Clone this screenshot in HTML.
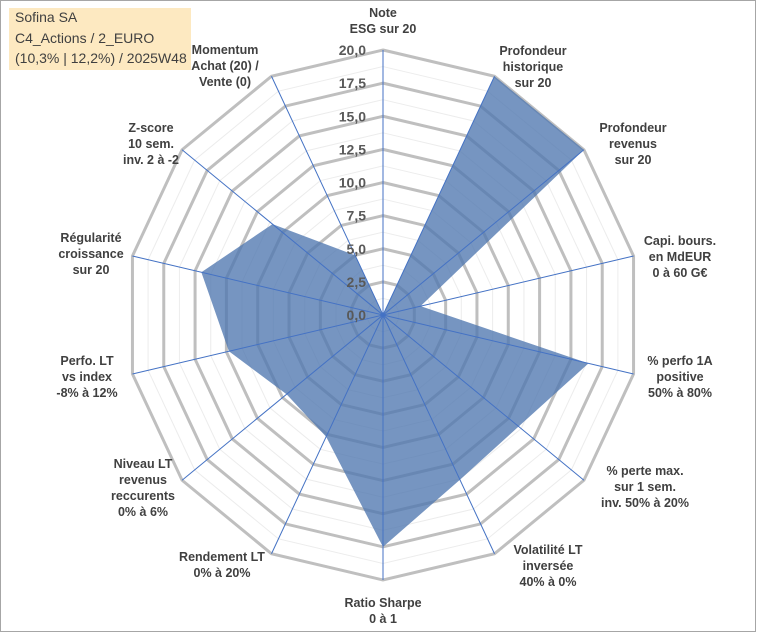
<!DOCTYPE html>
<html><head><meta charset="utf-8">
<style>
html,body{margin:0;padding:0;background:#fff;}
svg{display:block;}
text{font-family:"Liberation Sans",Arial,sans-serif;}
.lbl{font-size:12.5px;font-weight:bold;fill:#404040;}
.tick{font-size:14px;font-weight:bold;fill:#595959;}
</style></head>
<body>
<svg id="chart" width="760" height="633" viewBox="0 0 760 633">
<rect x="0.5" y="0.5" width="755" height="631" fill="#fff" stroke="#a6a6a6"/>
<g id="grid"></g>
<g id="series"></g>
<g id="axes"></g>
<g id="ticks"></g>
<g id="labels"></g>
<g>
<rect x="9" y="8" width="182" height="62" fill="#fde9c1"/>
<text x="15" y="22" font-size="14" fill="#404040">Sofina SA</text>
<text x="15" y="43" font-size="14" fill="#404040">C4_Actions / 2_EURO</text>
<text x="15" y="63" font-size="14" fill="#404040">(10,3% | 12,2%) / 2025W48</text>
</g>
</svg>
<script>
const categories = [
 ["Note","ESG sur 20"],
 ["Profondeur","historique","sur 20"],
 ["Profondeur","revenus","sur 20"],
 ["Capi. bours.","en MdEUR","0 à 60 G€"],
 ["% perfo 1A","positive","50% à 80%"],
 ["% perte max.","sur 1 sem.","inv. 50% à 20%"],
 ["Volatilité LT","inversée","40% à 0%"],
 ["Ratio Sharpe","0 à 1"],
 ["Rendement LT","0% à 20%"],
 ["Niveau LT","revenus","reccurents","0% à 6%"],
 ["Perfo. LT","vs index","-8% à 12%"],
 ["Régularité","croissance","sur 20"],
 ["Z-score","10 sem.","inv. 2 à -2"],
 ["Momentum","Achat (20) /","Vente (0)"]
];
const values = [0, 20, 20, 3, 16.4, 13.5, 13.8, 17.5, 10.2, 9.6, 12.3, 14.5, 11, 5];
const tickLabels = ["0,0","2,5","5,0","7,5","10,0","12,5","15,0","17,5","20,0"];
const maxVal = 20;
const labelPos = [[383,12],[533,50],[633,127],[680,240],[680,360],[645,470],[548,549],[383,602],[222,556],[143,463],[87,360],[91,237],[151,127],[225,49]];

const cx=383, cy=315, rx=257, ry=265;
const N=categories.length;
const NS="http://www.w3.org/2000/svg";
function pt(i,v){const a=i*2*Math.PI/N;const r=v/maxVal;return [cx+rx*r*Math.sin(a), cy-ry*r*Math.cos(a)];}
function mk(tag,attrs,parent){const e=document.createElementNS(NS,tag);for(const k in attrs)e.setAttribute(k,attrs[k]);parent.appendChild(e);return e;}
const grid=document.getElementById('grid');
for(let k=1;k<=16;k++){
 const v=k*maxVal/16;
 const pts=[];for(let i=0;i<N;i++)pts.push(pt(i,v).join(','));
 const major=k%2===0;
 const p=mk('polygon',{points:pts.join(' '),fill:'none',stroke:major?'#bfbfbf':'#ececec','stroke-width':major?3:1},grid);
 
 
}
const ser=document.getElementById('series');
const sp=values.map((v,i)=>pt(i,v).join(',')).join(' ');
const poly=mk('polygon',{points:sp,fill:'rgba(79,119,176,0.78)',stroke:'none'},ser);


const axes=document.getElementById('axes');
for(let i=0;i<N;i++){
 const e=pt(i,maxVal);
 const l=mk('line',{x1:cx,y1:cy,x2:e[0],y2:e[1],stroke:'#4472c4','stroke-width':1},axes);
 
 
}
const ticks=document.getElementById('ticks');
tickLabels.forEach((t,k)=>{
 const y=cy-ry*(k*2.5)/maxVal;
 const tx=mk('text',{x:366,y:y+5,'text-anchor':'end',class:'tick'},ticks);
 tx.textContent=t;
 
 
});
const labels=document.getElementById('labels');
categories.forEach((lines,i)=>{
 const [x,y]=labelPos[i];
 const t=mk('text',{x:x,y:y+5,'text-anchor':'middle',class:'lbl'},labels);
 
 
 lines.forEach((ln,j)=>{const s=mk('tspan',{x:x,dy:j?16:0},t);s.textContent=ln;});
});
</script>
</body></html>
